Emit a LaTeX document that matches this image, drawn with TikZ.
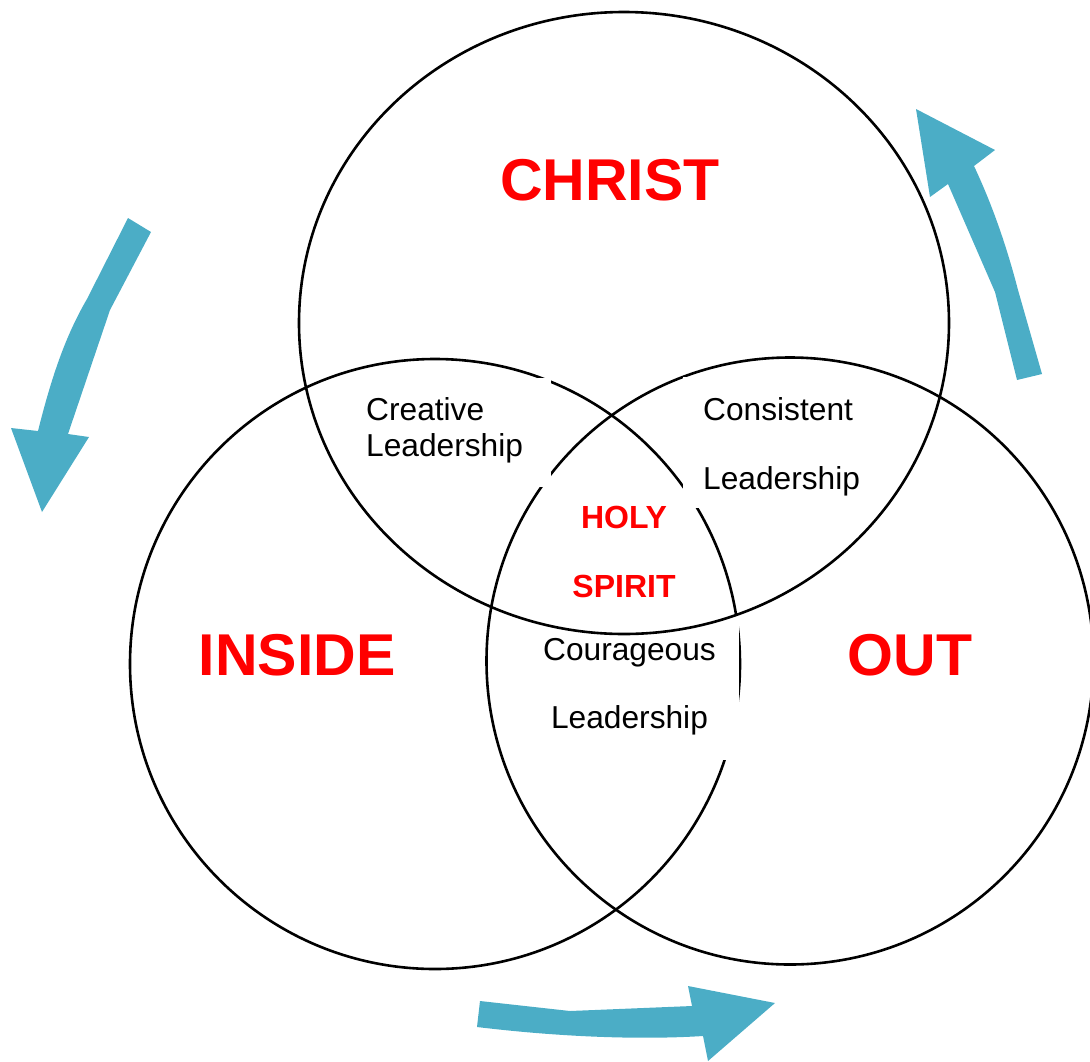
\documentclass[tikz,border=0pt]{standalone}
\usepackage{fontspec}
\setmainfont{Liberation Sans}
\definecolor{teal}{RGB}{75,173,198}
\definecolor{redtxt}{RGB}{255,0,0}
\begin{document}
\begin{tikzpicture}[x=1pt,y=-1pt,
  ring/.style={draw=black,line width=2.6pt},
  patch/.style={fill=white,draw=none},
  bigred/.style={text=redtxt,font=\fontsize{59}{62}\selectfont\bfseries,inner sep=0pt,anchor=base},
  midred/.style={text=redtxt,font=\fontsize{32}{36}\selectfont\bfseries,inner sep=0pt,anchor=base},
  lbl/.style={text=black,font=\fontsize{31.7}{36}\selectfont,inner sep=0pt},
  blockarrow/.style={fill=teal,draw=none}]
\useasboundingbox (0,0) rectangle (1090,1061);
\clip (0,0) rectangle (1090,1061);
% circles INSIDE and OUT
\draw[ring] (435,664) circle[radius=305];
\draw[ring] (790,661) circle[radius=303.5];
% white text-box patches
\fill[patch] (355,378) rectangle (551,487);
\fill[patch] (683,376.5) rectangle (870,508);
\fill[patch] (530,616) rectangle (738.5,760);
% CHRIST ellipse
\draw[ring] (624,323) ellipse[x radius=325,y radius=311];
% texts
\node[bigred] (christ) at (610,200) {CHRIST};
\node[bigred] (inside) at (297,675) {INSIDE};
\node[bigred] (out) at (910,675) {OUT};
\node[midred] (holy) at (624,528) {HOLY};
\node[midred] (spirit) at (624,597) {SPIRIT};
\node[lbl,anchor=base west] (creative1) at (366,420) {Creative};
\node[lbl,anchor=base west] (creative2) at (366,456) {Leadership};
\node[lbl,anchor=base west] (consistent1) at (703,420) {Consistent};
\node[lbl,anchor=base west] (consistent2) at (703,489) {Leadership};
\node[lbl,anchor=base] (courageous1) at (629.5,660) {Courageous};
\node[lbl,anchor=base] (courageous2) at (629.5,728) {Leadership};
% teal block arrows
\fill[blockarrow] (128,218) -- (151,232) -- (110,310) -- (68,434) -- (89,437)
  -- (42,512) -- (11,428) -- (38,431) .. controls (52,375) and (66,335) .. (87,299) -- cycle;
\fill[blockarrow] (1017,380) -- (995,292) -- (948,184) -- (930,197) -- (916,109)
  -- (995,150) -- (974,166) .. controls (990,200) and (1005,240) .. (1018,290) -- (1042,374) -- cycle;
\fill[blockarrow] (480,1001) -- (570,1011) -- (692,1006) -- (688,986) -- (775,1003)
  -- (708,1061) -- (703,1036) .. controls (640,1040) and (560,1037) .. (477,1027) -- cycle;
\end{tikzpicture}
\end{document}
